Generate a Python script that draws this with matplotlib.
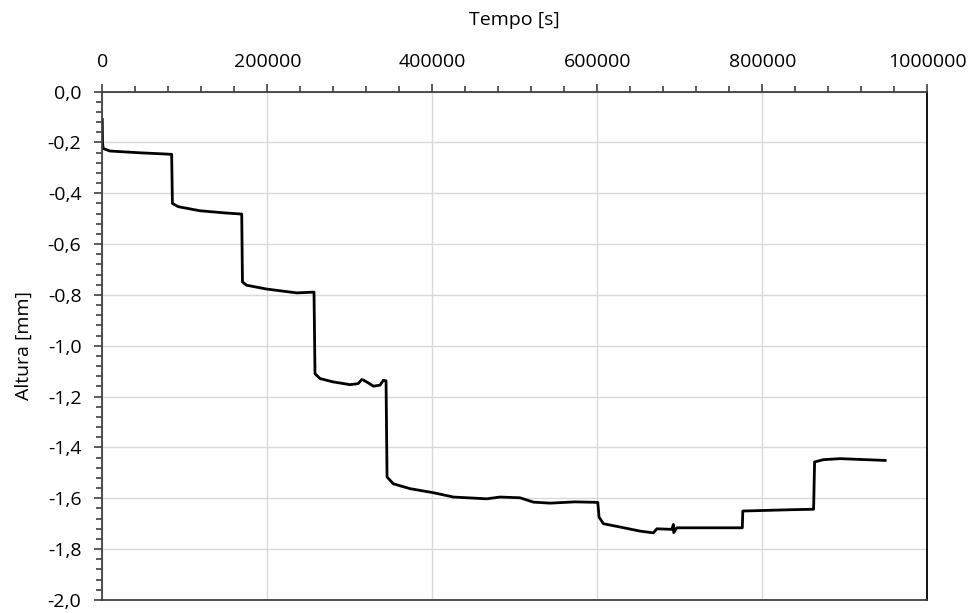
import numpy as np
import matplotlib
matplotlib.use("Agg")
import matplotlib.pyplot as plt
from matplotlib.ticker import MultipleLocator, FuncFormatter

# values
tempo = [0, 300, 1200, 9300, 45700, 84100,
         85000, 92100, 118400, 146700, 169000,
         169900, 175000, 199300, 235600, 256600,
         257800, 263900, 279600, 300200, 310000, 314400, 316400, 322400,
         328500, 336600, 340600, 343900,
         345100, 352700, 372900, 401200, 425500, 465900, 482100, 506300,
         522400, 542700, 573000, 600500,
         602000, 607300, 627500, 651700, 667900, 672000, 690200, 692100,
         692500, 696200, 775600,
         776200, 833600, 862000,
         863200, 873900, 894200, 948700]
altura = [-0.11, -0.20, -0.224, -0.234, -0.241, -0.247,
          -0.44, -0.453, -0.469, -0.477, -0.482,
          -0.749, -0.762, -0.777, -0.792, -0.789,
          -1.110, -1.129, -1.142, -1.153, -1.149, -1.133, -1.135, -1.146,
          -1.159, -1.155, -1.136, -1.138,
          -1.516, -1.543, -1.562, -1.578, -1.595, -1.602, -1.595, -1.598,
          -1.615, -1.619, -1.614, -1.616,
          -1.674, -1.700, -1.713, -1.729, -1.736, -1.720, -1.722, -1.703,
          -1.735, -1.716, -1.716,
          -1.650, -1.645, -1.643,
          -1.457, -1.448, -1.444, -1.451]

plt.rcParams['font.family'] = ['Open Sans', 'DejaVu Sans']

fig = plt.figure(figsize=(9.72, 6.13), dpi=100)
ax = fig.add_axes([0.1052, 0.0212, 0.8490, 0.8295])

ax.plot(tempo, altura, color='black', lw=2.0, solid_joinstyle='round')

ax.set_xlim(0, 1000000)
ax.set_ylim(-2.0, 0.0)

ax.xaxis.set_major_locator(MultipleLocator(200000))
ax.xaxis.set_minor_locator(MultipleLocator(40000))
ax.yaxis.set_major_locator(MultipleLocator(0.2))
ax.yaxis.set_minor_locator(MultipleLocator(0.04))

ax.xaxis.set_major_formatter(FuncFormatter(lambda v, p: f"{v:.0f}"))
ax.yaxis.set_major_formatter(FuncFormatter(lambda v, p: f"{v:.1f}".replace('.', ',').replace('-0,0', '0,0')))

ax.xaxis.tick_top()
ax.xaxis.set_label_position('top')

ax.tick_params(axis='both', which='major', direction='out', length=6, width=1.2,
               labelsize=14, color='#404040', pad=9)
ax.tick_params(axis='both', which='minor', direction='out', length=4.5, width=1.2,
               color='#404040')
ax.tick_params(axis='x', which='both', top=True, bottom=False)

ax.grid(True, which='major', color='#d9d9d9', lw=1.0)
ax.set_axisbelow(True)

for s in ax.spines.values():
    s.set_color('#404040')
    s.set_linewidth(1.3)
ax.spines['right'].set_color('black')

ax.set_xlabel('Tempo [s]', fontsize=14, labelpad=20)
ax.set_ylabel('Altura [mm]', fontsize=14, labelpad=11)

fig.savefig('out.png', dpi=100)
